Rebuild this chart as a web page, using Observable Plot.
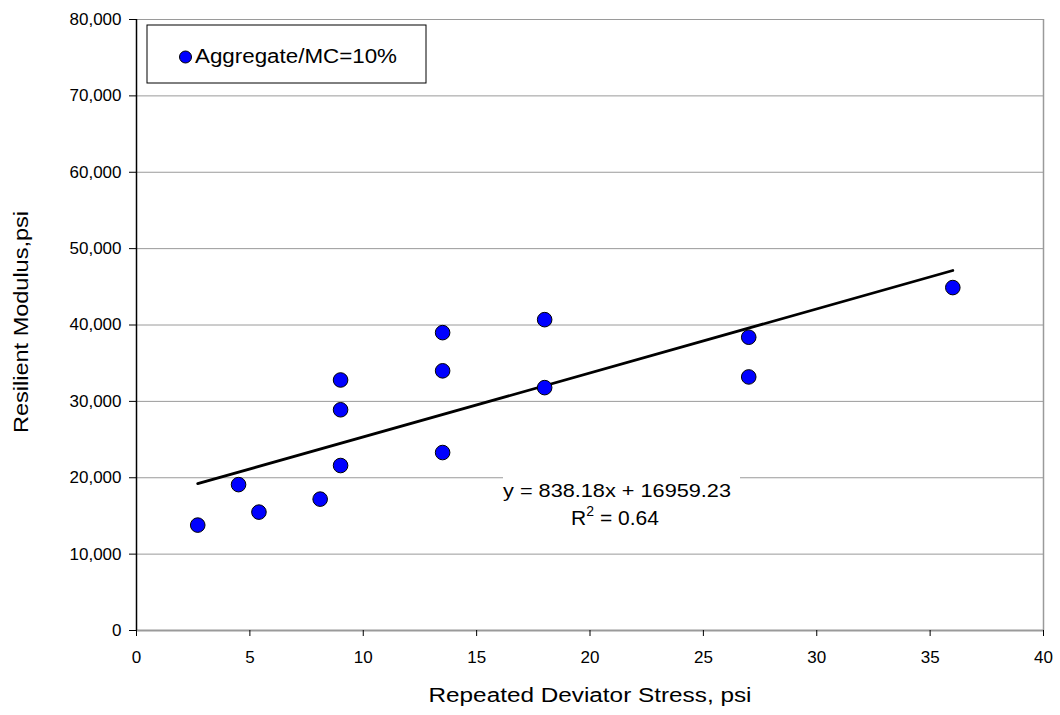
<!DOCTYPE html>
<html><head><meta charset="utf-8">
<script src="https://cdn.jsdelivr.net/npm/d3@7"></script>
<script src="https://cdn.jsdelivr.net/npm/@observablehq/plot@0.6"></script>
<style>
body{margin:0;background:#fff;font-family:"Liberation Sans",Arial,sans-serif;}
</style></head>
<body><div id="chart"></div>
<script>
const stress = [2.7, 4.5, 5.4, 8.1, 9, 9, 9, 13.5, 13.5, 13.5, 18, 18, 27, 27, 36];
const modulus = [13800, 19100, 15500, 17200, 21600, 28900, 32800, 23300, 34000, 39000, 31800, 40700, 33200, 38400, 44900];
const seriesName = "Aggregate/MC=10%";
const slope = 838.18, intercept = 16959.23, r2 = 0.64;
const fitRange = [2.7, 36];
const xTicks = [0,5,10,15,20,25,30,35,40];
const yTicks = [0,10000,20000,30000,40000,50000,60000,70000,80000];
const xTitle = "Repeated Deviator Stress, psi";
const yTitle = "Resilient Modulus,psi";

const data = stress.map((x,i)=>({x, y: modulus[i]}));
const fit = fitRange.map(x=>({x, y: slope*x + intercept}));
const fmt = d3.format(",");
const FONT = '"Liberation Sans", Arial, sans-serif';

const chart = Plot.plot({
  width: 1060, height: 715,
  marginLeft: 136, marginRight: 17, marginTop: 19, marginBottom: 85,
  style: {fontFamily: FONT, fontSize: "17px", color: "#000", background: "#fff"},
  x: {domain: [0,40], ticks: xTicks, label: null},
  y: {domain: [0,80000], ticks: yTicks, label: null, tickFormat: fmt},
  marks: [
    Plot.ruleY(yTicks.slice(1), {stroke: "#9a9a9a", strokeWidth: 1}),
    Plot.ruleY([0], {stroke: "#9a9a9a", strokeWidth: 2}),
    Plot.ruleX([40], {stroke: "#9a9a9a", strokeWidth: 1.5}),
    Plot.ruleX([0], {stroke: "#000", strokeWidth: 1.5}),
    Plot.axisX({ticks: xTicks, tickSize: 6, tickPadding: 14, fontSize: 17, label: null}),
    Plot.axisY({ticks: yTicks, tickSize: 7, tickPadding: 8, tickFormat: fmt, fontSize: 17, label: null}),
    Plot.line(fit, {x: "x", y: "y", stroke: "#000", strokeWidth: 2.8}),
    Plot.dot(data, {x: "x", y: "y", r: 7.3, fill: "#0000ff", stroke: "#000", strokeWidth: 1})
  ]
});

const svg = d3.select(chart);
// regression label box
svg.append("rect").attr("x", 503).attr("y", 468).attr("width", 237).attr("height", 66).attr("fill", "#fff");
svg.append("text").attr("x", 617).attr("y", 497).attr("text-anchor","middle")
  .attr("font-size", 19).attr("font-family", FONT)
  .attr("textLength", 228).attr("lengthAdjust", "spacingAndGlyphs")
  .text(`y = ${slope}x + ${intercept}`);
const r2t = svg.append("text").attr("x", 615).attr("y", 525).attr("text-anchor","middle")
  .attr("font-size", 21).attr("font-family", FONT);
r2t.append("tspan").text("R");
r2t.append("tspan").attr("dy", -9).attr("font-size", 14).text("2");
r2t.append("tspan").attr("dy", 9).text(` = ${r2}`);
// legend
const lg = svg.append("g");
lg.append("rect").attr("x", 147).attr("y", 25).attr("width", 279).attr("height", 58).attr("fill","#fff").attr("stroke","#000").attr("stroke-width",1);
lg.append("circle").attr("cx", 185.5).attr("cy", 57).attr("r", 6).attr("fill","#0000ff").attr("stroke","#000");
lg.append("text").attr("x", 195).attr("y", 63).attr("text-anchor","start").attr("font-size", 20).attr("font-family", FONT)
  .attr("textLength", 202).attr("lengthAdjust", "spacingAndGlyphs").text(seriesName);
// axis titles
svg.append("text").attr("x", 590).attr("y", 702).attr("text-anchor","middle").attr("font-size", 20).attr("font-family", FONT)
  .attr("textLength", 323).attr("lengthAdjust", "spacingAndGlyphs").text(xTitle);
svg.append("text").attr("transform","translate(28,322) rotate(-90)").attr("text-anchor","middle").attr("font-size", 20).attr("font-family", FONT)
  .attr("textLength", 222).attr("lengthAdjust", "spacingAndGlyphs").text(yTitle);
document.getElementById("chart").appendChild(chart);
</script></body></html>
